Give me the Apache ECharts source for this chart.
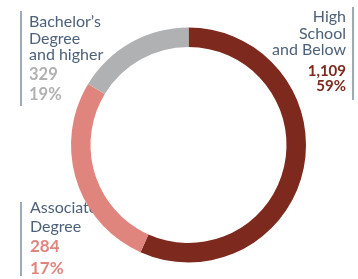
<!DOCTYPE html>
<html><head><meta charset="utf-8">
<script src="https://cdn.jsdelivr.net/npm/echarts@6/dist/echarts.min.js"></script>
<style>html,body{margin:0;padding:0;background:#fff}#c{width:358px;height:279px}</style>
</head><body><div id="c"></div>
<script>
// Data
const categories = ["High School and Below", "Associate Degree", "Bachelor's Degree and higher"];
const counts = [1109, 284, 329];
const percents = [59, 17, 19];
const ringShares = [56.7, 27.0, 16.3];
const labelLines = [["High", "School", "and Below"], ["Associate", "Degree"], ["Bachelor\u2019s", "Degree", "and higher"]];
const colors = ["#7e291d", "#e0857d", "#b0b1b3"];

const textColor = "#4d6178";
const lineColor = "#7d8ea2";
const FONT = "Lato, 'Open Sans', sans-serif";

function fmt(n){ return n.toLocaleString('en-US'); }

const graphics = [];
function block(idx, x, yTop, align, namePitch, numSize, numPitch, numGap, lineX, lineY1, lineY2){
  const names = labelLines[idx];
  let y = yTop;
  names.forEach((t)=>{
    graphics.push({type:'text', x:x, y:y, style:{text:t, font:"16px "+FONT, fill:textColor, textAlign:align, textVerticalAlign:'top'}});
    y += namePitch;
  });
  y += numGap;
  [fmt(counts[idx]), percents[idx] + "%"].forEach((t)=>{
    graphics.push({type:'text', x:x, y:y, style:{text:t, font:"bold " + numSize + "px "+FONT, fill:colors[idx], textAlign:align, textVerticalAlign:'top'}});
    y += numPitch;
  });
  graphics.push({type:'line', shape:{x1:lineX, y1:lineY1, x2:lineX, y2:lineY2}, style:{stroke:lineColor, lineWidth:1.5}});
}
// Bachelor's (top-left)
block(2, 29, 14, 'left', 16.5, 16.5, 19.6, 3, 21, 11, 106);
// High School (top-right)
block(0, 346, 9, 'right', 16.5, 15, 15.5, 5, 353, 7, 100);
// Associate (bottom-left)
block(1, 30, 200, 'left', 19, 17, 22, 0, 21, 202, 276);

const chart = echarts.init(document.getElementById('c'), null, {renderer:'canvas'});
chart.setOption({
  animation:false,
  series:[{
    type:'pie',
    silent:true,
    center:[188.5,145],
    radius:[98,117.5],
    startAngle:90,
    clockwise:true,
    label:{show:false},
    labelLine:{show:false},
    itemStyle:{borderWidth:0},
    data: categories.map((c,i)=>({name:c, value:ringShares[i], itemStyle:{color:colors[i]}}))
  }],
  graphic: graphics
});
</script></body></html>
